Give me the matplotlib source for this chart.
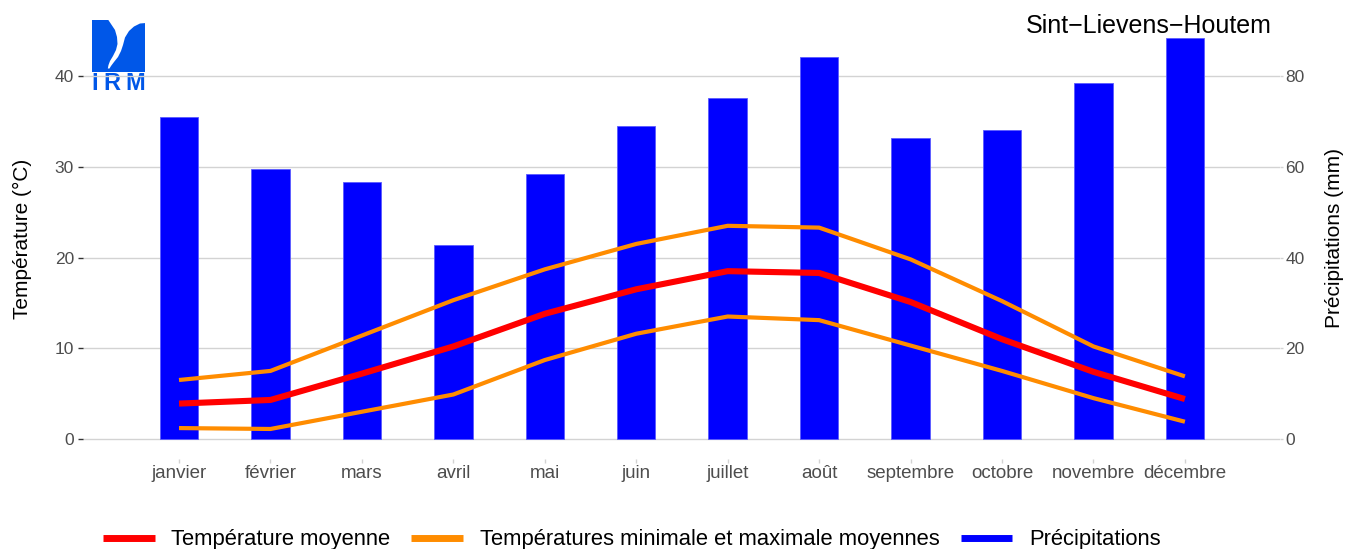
import matplotlib
matplotlib.use("Agg")
import matplotlib.pyplot as plt
from matplotlib.lines import Line2D
from matplotlib.patches import Polygon, Rectangle
import numpy as np

months = ["janvier", "février", "mars", "avril", "mai", "juin", "juillet",
          "août", "septembre", "octobre", "novembre", "décembre"]
precip = [71.0, 59.5, 56.6, 42.8, 58.4, 69.0, 75.2, 84.2, 66.3, 68.1, 78.4, 88.4]
tmean = [3.9, 4.3, 7.2, 10.2, 13.8, 16.5, 18.5, 18.3, 15.1, 11.0, 7.4, 4.4]
tmax = [6.5, 7.5, 11.4, 15.3, 18.7, 21.5, 23.5, 23.3, 19.8, 15.2, 10.2, 6.9]
tmin = [1.2, 1.1, 3.0, 4.9, 8.7, 11.6, 13.5, 13.1, 10.3, 7.5, 4.5, 1.9]
temp_ticks = [0, 10, 20, 30, 40]
precip_ticks = [0, 20, 40, 60, 80]
station = "Sint\u2212Lievens\u2212Houtem"

plt.rcParams['font.family'] = ['Liberation Sans', 'DejaVu Sans']

W, H = 1347, 549
fig = plt.figure(figsize=(W / 100, H / 100), dpi=100)

px_l, px_r, px_t, px_b = 83, 1280, 18, 459
ax = fig.add_axes([px_l / W, 1 - px_b / H, (px_r - px_l) / W, (px_b - px_t) / H])
ax2 = ax.twinx()
ax2.set_zorder(1)
ax.set_zorder(2)
ax.patch.set_visible(False)

x = np.arange(len(months))
top = max(precip) / 2
pad = top * 0.05
ax.set_ylim(-pad, top + pad)
ax2.set_ylim(-2 * pad, 2 * (top + pad))
ax.set_xlim(-1.05, 12.04)

ax2.bar(x, precip, width=0.42, color="#0000FF", edgecolor="#5A5AFF", linewidth=0.6, zorder=2)
ax2.set_axisbelow(True)
ax2.yaxis.grid(True, color="#D3D3D3", linewidth=1.0)
ax2.set_yticks(precip_ticks)

ax.plot(x, tmax, color="#FF8C00", lw=3.0, solid_capstyle="butt", zorder=3)
ax.plot(x, tmin, color="#FF8C00", lw=3.0, solid_capstyle="butt", zorder=3)
ax.plot(x, tmean, color="#FF0000", lw=4.4, solid_capstyle="butt", zorder=4)

ax.set_yticks(temp_ticks)
ax.set_xticks(x)
ax.set_xticklabels(months)

for a in (ax, ax2):
    for s in a.spines.values():
        s.set_visible(False)

ax.tick_params(axis="y", left=True, length=3.5, width=1.0, color="#333333",
               labelsize=12.5, labelcolor="#4D4D4D", pad=3)
ax.tick_params(axis="x", length=3, width=1.0, color="#D3D3D3",
               labelsize=13.5, labelcolor="#4D4D4D", pad=1)
ax2.tick_params(axis="y", right=True, length=2, width=1.0, color="#D3D3D3",
                labelsize=12.5, labelcolor="#4D4D4D", pad=2)

ax.set_ylabel("Température (°C)", fontsize=15, color="black", va="center", ha="center")
ax.yaxis.set_label_coords((22 - px_l) / (px_r - px_l), 0.5)
ax2.set_ylabel("Précipitations (mm)", fontsize=15, color="black", rotation=90,
               va="center", ha="center")
ax2.yaxis.set_label_coords((1334 - px_l) / (px_r - px_l), 0.5)

fig.text(1272 / W, 1 - 33 / H, station, ha="right", va="baseline", fontsize=18.0, color="black")

handles = [Line2D([], [], color="#FF0000", lw=5, solid_capstyle="butt"),
           Line2D([], [], color="#FF8C00", lw=5, solid_capstyle="butt"),
           Line2D([], [], color="#0000FF", lw=5, solid_capstyle="butt")]
labels = ["Température moyenne", "Températures minimale et maximale moyennes", "Précipitations"]
fig.legend(handles, labels, loc="center left", bbox_to_anchor=(103 / W, 1 - 540 / H),
           ncol=3, frameon=False, fontsize=15.8, handlelength=2.35, handletextpad=0.77,
           columnspacing=0.95, borderpad=0, borderaxespad=0)

# IRM logo
lc = "#0057E8"
lax = fig.add_axes([90 / W, 1 - 92 / H, 57 / W, 74 / H])
lax.set_xlim(90, 147)
lax.set_ylim(92, 18)
lax.axis("off")
lax.add_patch(Rectangle((92, 20), 53, 52, color=lc, lw=0))
white = [(107, 18), (111, 24), (115, 30), (117, 37), (117.5, 44), (116, 50), (113, 56),
         (110, 61), (108.5, 65), (107.8, 68.5), (109.5, 68.5), (111, 66), (114, 62),
         (118, 57), (121, 51), (123, 45), (125, 37.5), (129, 31), (134, 26.5),
         (140, 23.5), (146, 23), (146, 18)]
lax.add_patch(Polygon(white, closed=True, color="white", lw=0))
for ch, cx in zip("IRM", [94.8, 111.8, 135.0]):
    lax.text(cx, 89.5, ch, ha="center", va="baseline", fontsize=17, color=lc,
             fontweight="bold")

fig.savefig("out.png", dpi=100)
